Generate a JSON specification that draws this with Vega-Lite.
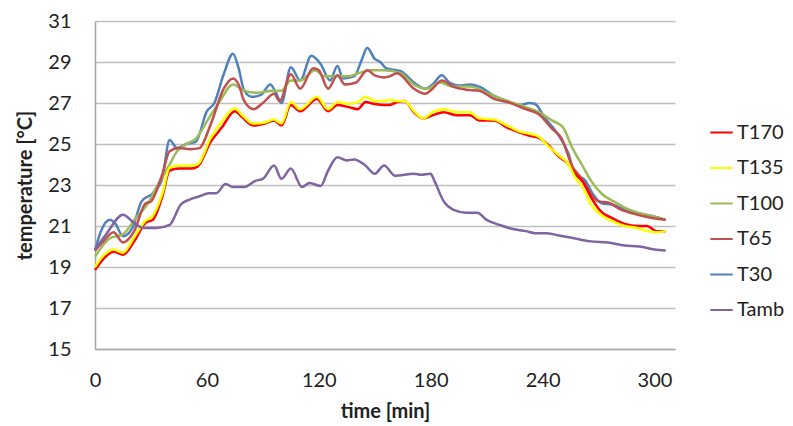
{
  "$schema": "https://vega.github.io/schema/vega-lite/v6.json",
  "width": 580,
  "height": 328,
  "autosize": {"type": "none"},
  "padding": {"left": 95, "top": 21, "right": 118, "bottom": 77},
  "background": "white",
  "config": {
    "font": "Lato",
    "view": {"stroke": null},
    "axis": {"labelFont": "Lato", "titleFont": "Lato", "labelColor": "#222222", "titleColor": "#222222"}
  },
  "data": {"values": [
    {"t":0,"s":"T30","v":19.8},{"t":3,"s":"T30","v":20.7},{"t":8,"s":"T30","v":21.3},{"t":11,"s":"T30","v":21.1},{"t":15,"s":"T30","v":20.5},{"t":20,"s":"T30","v":20.9},{"t":25,"s":"T30","v":22.2},{"t":31,"s":"T30","v":22.6},{"t":36,"s":"T30","v":23.3},{"t":40,"s":"T30","v":25.2},{"t":44,"s":"T30","v":24.8},{"t":49,"s":"T30","v":25.0},{"t":54,"s":"T30","v":25.1},{"t":60,"s":"T30","v":26.6},{"t":64,"s":"T30","v":27.0},{"t":69,"s":"T30","v":28.4},{"t":74,"s":"T30","v":29.4},{"t":77,"s":"T30","v":28.7},{"t":80,"s":"T30","v":27.6},{"t":84,"s":"T30","v":27.3},{"t":89,"s":"T30","v":27.4},{"t":94,"s":"T30","v":27.9},{"t":97,"s":"T30","v":27.5},{"t":100,"s":"T30","v":27.0},{"t":105,"s":"T30","v":28.75},{"t":110,"s":"T30","v":28.1},{"t":116,"s":"T30","v":29.3},{"t":121,"s":"T30","v":28.9},{"t":126,"s":"T30","v":28.1},{"t":130,"s":"T30","v":28.8},{"t":133,"s":"T30","v":28.2},{"t":139,"s":"T30","v":28.3},{"t":143,"s":"T30","v":29.1},{"t":146,"s":"T30","v":29.7},{"t":150,"s":"T30","v":29.15},{"t":153,"s":"T30","v":29.0},{"t":156,"s":"T30","v":28.7},{"t":164,"s":"T30","v":28.55},{"t":171,"s":"T30","v":28.0},{"t":177,"s":"T30","v":27.7},{"t":181,"s":"T30","v":27.9},{"t":186,"s":"T30","v":28.35},{"t":190,"s":"T30","v":28.0},{"t":196,"s":"T30","v":27.85},{"t":201,"s":"T30","v":27.9},{"t":206,"s":"T30","v":27.8},{"t":214,"s":"T30","v":27.35},{"t":221,"s":"T30","v":27.1},{"t":228,"s":"T30","v":26.9},{"t":233,"s":"T30","v":27.0},{"t":236,"s":"T30","v":26.95},{"t":241,"s":"T30","v":26.3},{"t":248,"s":"T30","v":25.5},{"t":254,"s":"T30","v":24.5},{"t":257,"s":"T30","v":23.6},{"t":263,"s":"T30","v":23.2},{"t":267,"s":"T30","v":22.55},{"t":272,"s":"T30","v":22.1},{"t":277,"s":"T30","v":22.05},{"t":284,"s":"T30","v":21.8},{"t":291,"s":"T30","v":21.6},{"t":298,"s":"T30","v":21.5},{"t":306,"s":"T30","v":21.3},

    {"t":0,"s":"T100","v":19.5},{"t":8,"s":"T100","v":20.4},{"t":15,"s":"T100","v":20.6},{"t":22,"s":"T100","v":21.4},{"t":28,"s":"T100","v":22.05},{"t":33,"s":"T100","v":22.9},{"t":40,"s":"T100","v":24.0},{"t":44,"s":"T100","v":24.65},{"t":49,"s":"T100","v":25.0},{"t":54,"s":"T100","v":25.25},{"t":60,"s":"T100","v":26.1},{"t":67,"s":"T100","v":27.1},{"t":74,"s":"T100","v":27.9},{"t":80,"s":"T100","v":27.6},{"t":87,"s":"T100","v":27.5},{"t":95,"s":"T100","v":27.6},{"t":100,"s":"T100","v":27.6},{"t":105,"s":"T100","v":28.1},{"t":110,"s":"T100","v":28.1},{"t":118,"s":"T100","v":28.6},{"t":123,"s":"T100","v":28.3},{"t":129,"s":"T100","v":28.3},{"t":136,"s":"T100","v":28.3},{"t":141,"s":"T100","v":28.45},{"t":148,"s":"T100","v":28.6},{"t":155,"s":"T100","v":28.6},{"t":164,"s":"T100","v":28.45},{"t":171,"s":"T100","v":27.9},{"t":178,"s":"T100","v":27.7},{"t":185,"s":"T100","v":28.0},{"t":192,"s":"T100","v":27.8},{"t":201,"s":"T100","v":27.8},{"t":210,"s":"T100","v":27.5},{"t":221,"s":"T100","v":27.1},{"t":231,"s":"T100","v":26.8},{"t":238,"s":"T100","v":26.55},{"t":245,"s":"T100","v":26.15},{"t":251,"s":"T100","v":25.8},{"t":256,"s":"T100","v":24.8},{"t":261,"s":"T100","v":24.0},{"t":266,"s":"T100","v":23.2},{"t":272,"s":"T100","v":22.55},{"t":279,"s":"T100","v":22.15},{"t":284,"s":"T100","v":21.9},{"t":291,"s":"T100","v":21.65},{"t":298,"s":"T100","v":21.5},{"t":306,"s":"T100","v":21.3},

    {"t":0,"s":"T65","v":19.8},{"t":4.5,"s":"T65","v":20.25},{"t":10,"s":"T65","v":20.7},{"t":15,"s":"T65","v":20.2},{"t":21,"s":"T65","v":20.75},{"t":27,"s":"T65","v":22.1},{"t":30,"s":"T65","v":22.2},{"t":36,"s":"T65","v":23.5},{"t":40,"s":"T65","v":24.65},{"t":45,"s":"T65","v":24.8},{"t":51,"s":"T65","v":24.75},{"t":56,"s":"T65","v":24.8},{"t":62,"s":"T65","v":25.95},{"t":69,"s":"T65","v":27.7},{"t":74,"s":"T65","v":28.2},{"t":77,"s":"T65","v":27.9},{"t":80,"s":"T65","v":27.1},{"t":85,"s":"T65","v":26.7},{"t":90,"s":"T65","v":27.0},{"t":96,"s":"T65","v":27.45},{"t":99,"s":"T65","v":27.1},{"t":105,"s":"T65","v":28.4},{"t":110,"s":"T65","v":27.7},{"t":117,"s":"T65","v":28.7},{"t":120,"s":"T65","v":28.6},{"t":125,"s":"T65","v":27.7},{"t":130,"s":"T65","v":28.35},{"t":134,"s":"T65","v":27.9},{"t":140,"s":"T65","v":28.0},{"t":146,"s":"T65","v":28.6},{"t":150,"s":"T65","v":28.35},{"t":155,"s":"T65","v":28.25},{"t":158,"s":"T65","v":28.3},{"t":162,"s":"T65","v":28.45},{"t":171,"s":"T65","v":27.7},{"t":177,"s":"T65","v":27.45},{"t":181,"s":"T65","v":27.7},{"t":186,"s":"T65","v":28.1},{"t":192,"s":"T65","v":27.8},{"t":199,"s":"T65","v":27.65},{"t":206,"s":"T65","v":27.6},{"t":214,"s":"T65","v":27.2},{"t":221,"s":"T65","v":27.05},{"t":231,"s":"T65","v":26.7},{"t":238,"s":"T65","v":26.45},{"t":245,"s":"T65","v":25.75},{"t":250,"s":"T65","v":25.3},{"t":256,"s":"T65","v":23.9},{"t":261,"s":"T65","v":23.3},{"t":266,"s":"T65","v":22.55},{"t":270,"s":"T65","v":22.2},{"t":275,"s":"T65","v":22.15},{"t":282,"s":"T65","v":21.8},{"t":291,"s":"T65","v":21.55},{"t":298,"s":"T65","v":21.4},{"t":306,"s":"T65","v":21.3},

    {"t":0,"s":"T170","v":18.85},{"t":5,"s":"T170","v":19.45},{"t":10,"s":"T170","v":19.75},{"t":15,"s":"T170","v":19.6},{"t":21,"s":"T170","v":20.25},{"t":27,"s":"T170","v":21.15},{"t":31,"s":"T170","v":21.3},{"t":36,"s":"T170","v":22.4},{"t":40,"s":"T170","v":23.7},{"t":45,"s":"T170","v":23.8},{"t":51,"s":"T170","v":23.8},{"t":55,"s":"T170","v":23.9},{"t":62,"s":"T170","v":25.1},{"t":68,"s":"T170","v":25.8},{"t":75,"s":"T170","v":26.6},{"t":79,"s":"T170","v":26.3},{"t":85,"s":"T170","v":25.9},{"t":91,"s":"T170","v":26.0},{"t":96,"s":"T170","v":26.15},{"t":100,"s":"T170","v":25.9},{"t":105,"s":"T170","v":26.9},{"t":110,"s":"T170","v":26.6},{"t":119,"s":"T170","v":27.2},{"t":125,"s":"T170","v":26.6},{"t":130,"s":"T170","v":26.9},{"t":136,"s":"T170","v":26.8},{"t":141,"s":"T170","v":26.7},{"t":145,"s":"T170","v":27.05},{"t":150,"s":"T170","v":26.95},{"t":155,"s":"T170","v":26.9},{"t":158,"s":"T170","v":26.9},{"t":162,"s":"T170","v":27.05},{"t":166,"s":"T170","v":27.1},{"t":171,"s":"T170","v":26.55},{"t":176,"s":"T170","v":26.25},{"t":181,"s":"T170","v":26.4},{"t":187,"s":"T170","v":26.55},{"t":194,"s":"T170","v":26.4},{"t":201,"s":"T170","v":26.4},{"t":206,"s":"T170","v":26.15},{"t":214,"s":"T170","v":26.15},{"t":221,"s":"T170","v":25.8},{"t":228,"s":"T170","v":25.55},{"t":233,"s":"T170","v":25.4},{"t":238,"s":"T170","v":25.3},{"t":243,"s":"T170","v":24.95},{"t":248,"s":"T170","v":24.45},{"t":254,"s":"T170","v":24.0},{"t":257,"s":"T170","v":23.6},{"t":262,"s":"T170","v":23.1},{"t":266,"s":"T170","v":22.4},{"t":272,"s":"T170","v":21.65},{"t":277,"s":"T170","v":21.4},{"t":284,"s":"T170","v":21.1},{"t":291,"s":"T170","v":21.0},{"t":296,"s":"T170","v":21.0},{"t":301,"s":"T170","v":20.75},{"t":306,"s":"T170","v":20.75},

    {"t":0,"s":"T135","v":19.0},{"t":5,"s":"T135","v":19.6},{"t":10,"s":"T135","v":19.85},{"t":15,"s":"T135","v":19.7},{"t":21,"s":"T135","v":20.45},{"t":27,"s":"T135","v":21.25},{"t":31,"s":"T135","v":21.5},{"t":36,"s":"T135","v":22.55},{"t":40,"s":"T135","v":23.85},{"t":45,"s":"T135","v":23.95},{"t":51,"s":"T135","v":23.95},{"t":55,"s":"T135","v":24.0},{"t":62,"s":"T135","v":25.3},{"t":68,"s":"T135","v":26.1},{"t":75,"s":"T135","v":26.75},{"t":79,"s":"T135","v":26.4},{"t":85,"s":"T135","v":26.0},{"t":91,"s":"T135","v":26.05},{"t":96,"s":"T135","v":26.2},{"t":100,"s":"T135","v":26.0},{"t":105,"s":"T135","v":27.05},{"t":110,"s":"T135","v":26.7},{"t":119,"s":"T135","v":27.3},{"t":125,"s":"T135","v":26.7},{"t":130,"s":"T135","v":27.05},{"t":136,"s":"T135","v":26.95},{"t":141,"s":"T135","v":27.05},{"t":145,"s":"T135","v":27.3},{"t":150,"s":"T135","v":27.1},{"t":155,"s":"T135","v":27.1},{"t":158,"s":"T135","v":27.15},{"t":162,"s":"T135","v":27.1},{"t":166,"s":"T135","v":27.1},{"t":171,"s":"T135","v":26.6},{"t":176,"s":"T135","v":26.25},{"t":181,"s":"T135","v":26.55},{"t":187,"s":"T135","v":26.7},{"t":194,"s":"T135","v":26.55},{"t":201,"s":"T135","v":26.55},{"t":206,"s":"T135","v":26.25},{"t":214,"s":"T135","v":26.2},{"t":221,"s":"T135","v":25.9},{"t":228,"s":"T135","v":25.6},{"t":233,"s":"T135","v":25.5},{"t":238,"s":"T135","v":25.35},{"t":243,"s":"T135","v":24.9},{"t":248,"s":"T135","v":24.5},{"t":254,"s":"T135","v":24.0},{"t":257,"s":"T135","v":23.45},{"t":262,"s":"T135","v":22.8},{"t":266,"s":"T135","v":22.05},{"t":272,"s":"T135","v":21.5},{"t":277,"s":"T135","v":21.25},{"t":284,"s":"T135","v":21.0},{"t":291,"s":"T135","v":20.9},{"t":296,"s":"T135","v":20.75},{"t":301,"s":"T135","v":20.7},{"t":306,"s":"T135","v":20.75},

    {"t":0,"s":"Tamb","v":19.85},{"t":6,"s":"Tamb","v":20.6},{"t":15,"s":"Tamb","v":21.55},{"t":21,"s":"Tamb","v":21.15},{"t":26,"s":"Tamb","v":20.9},{"t":33,"s":"Tamb","v":20.9},{"t":40,"s":"Tamb","v":21.05},{"t":46,"s":"Tamb","v":22.05},{"t":51,"s":"Tamb","v":22.3},{"t":56,"s":"Tamb","v":22.45},{"t":61,"s":"Tamb","v":22.6},{"t":65,"s":"Tamb","v":22.6},{"t":70,"s":"Tamb","v":23.05},{"t":74,"s":"Tamb","v":22.9},{"t":80,"s":"Tamb","v":22.9},{"t":86,"s":"Tamb","v":23.2},{"t":90,"s":"Tamb","v":23.3},{"t":96,"s":"Tamb","v":23.95},{"t":100,"s":"Tamb","v":23.3},{"t":105,"s":"Tamb","v":23.8},{"t":111,"s":"Tamb","v":22.9},{"t":115,"s":"Tamb","v":23.1},{"t":121,"s":"Tamb","v":22.95},{"t":125,"s":"Tamb","v":23.7},{"t":130,"s":"Tamb","v":24.35},{"t":135,"s":"Tamb","v":24.2},{"t":139,"s":"Tamb","v":24.25},{"t":145,"s":"Tamb","v":23.95},{"t":150,"s":"Tamb","v":23.55},{"t":155,"s":"Tamb","v":23.95},{"t":161,"s":"Tamb","v":23.45},{"t":171,"s":"Tamb","v":23.55},{"t":175,"s":"Tamb","v":23.5},{"t":180,"s":"Tamb","v":23.55},{"t":182,"s":"Tamb","v":23.2},{"t":187,"s":"Tamb","v":22.2},{"t":192,"s":"Tamb","v":21.8},{"t":199,"s":"Tamb","v":21.65},{"t":205,"s":"Tamb","v":21.65},{"t":210,"s":"Tamb","v":21.3},{"t":217,"s":"Tamb","v":21.05},{"t":224,"s":"Tamb","v":20.85},{"t":231,"s":"Tamb","v":20.75},{"t":236,"s":"Tamb","v":20.65},{"t":242,"s":"Tamb","v":20.65},{"t":248,"s":"Tamb","v":20.55},{"t":257,"s":"Tamb","v":20.4},{"t":266,"s":"Tamb","v":20.25},{"t":275,"s":"Tamb","v":20.2},{"t":284,"s":"Tamb","v":20.05},{"t":292,"s":"Tamb","v":20.0},{"t":300,"s":"Tamb","v":19.85},{"t":306,"s":"Tamb","v":19.8}
  ]},
  "mark": {"type": "line", "interpolate": "monotone", "strokeWidth": 2.5},
  "encoding": {
    "x": {
      "field": "t", "type": "quantitative",
      "scale": {"domain": [0, 311], "nice": false, "zero": false},
      "axis": {
        "title": "time [min]", "values": [0, 60, 120, 180, 240, 300],
        "grid": false, "ticks": false, "domainColor": "#A6A6A6", "domainWidth": 1.5,
        "labelFontSize": 20, "labelPadding": 21, "labelFlush": false,
        "titleFontSize": 20, "titleFontWeight": "bold", "titlePadding": 11
      }
    },
    "y": {
      "field": "v", "type": "quantitative",
      "scale": {"domain": [15, 31], "nice": false, "zero": false},
      "axis": {
        "title": "temperature [°C]", "values": [15, 17, 19, 21, 23, 25, 27, 29, 31],
        "grid": true, "gridColor": "#BFBFBF", "gridWidth": 1.5,
        "ticks": false, "domainColor": "#A6A6A6", "domainWidth": 1.5,
        "labelFontSize": 20, "labelPadding": 24,
        "titleFontSize": 20, "titleFontWeight": "bold", "titlePadding": 12
      }
    },
    "color": {
      "field": "s", "type": "nominal",
      "scale": {
        "domain": ["T170", "T135", "T100", "T65", "T30", "Tamb"],
        "range": ["#FF0000", "#FFFF00", "#9BBB59", "#C0504D", "#4F81BD", "#8064A2"]
      },
      "legend": {
        "title": null, "orient": "none", "legendX": 614, "legendY": 99,
        "symbolType": "stroke", "symbolSize": 500, "symbolStrokeWidth": 2,
        "labelFontSize": 20, "labelColor": "#222222", "labelOffset": 3, "rowPadding": 12.5
      }
    },
    "order": {"field": "t", "type": "quantitative"}
  }
}
